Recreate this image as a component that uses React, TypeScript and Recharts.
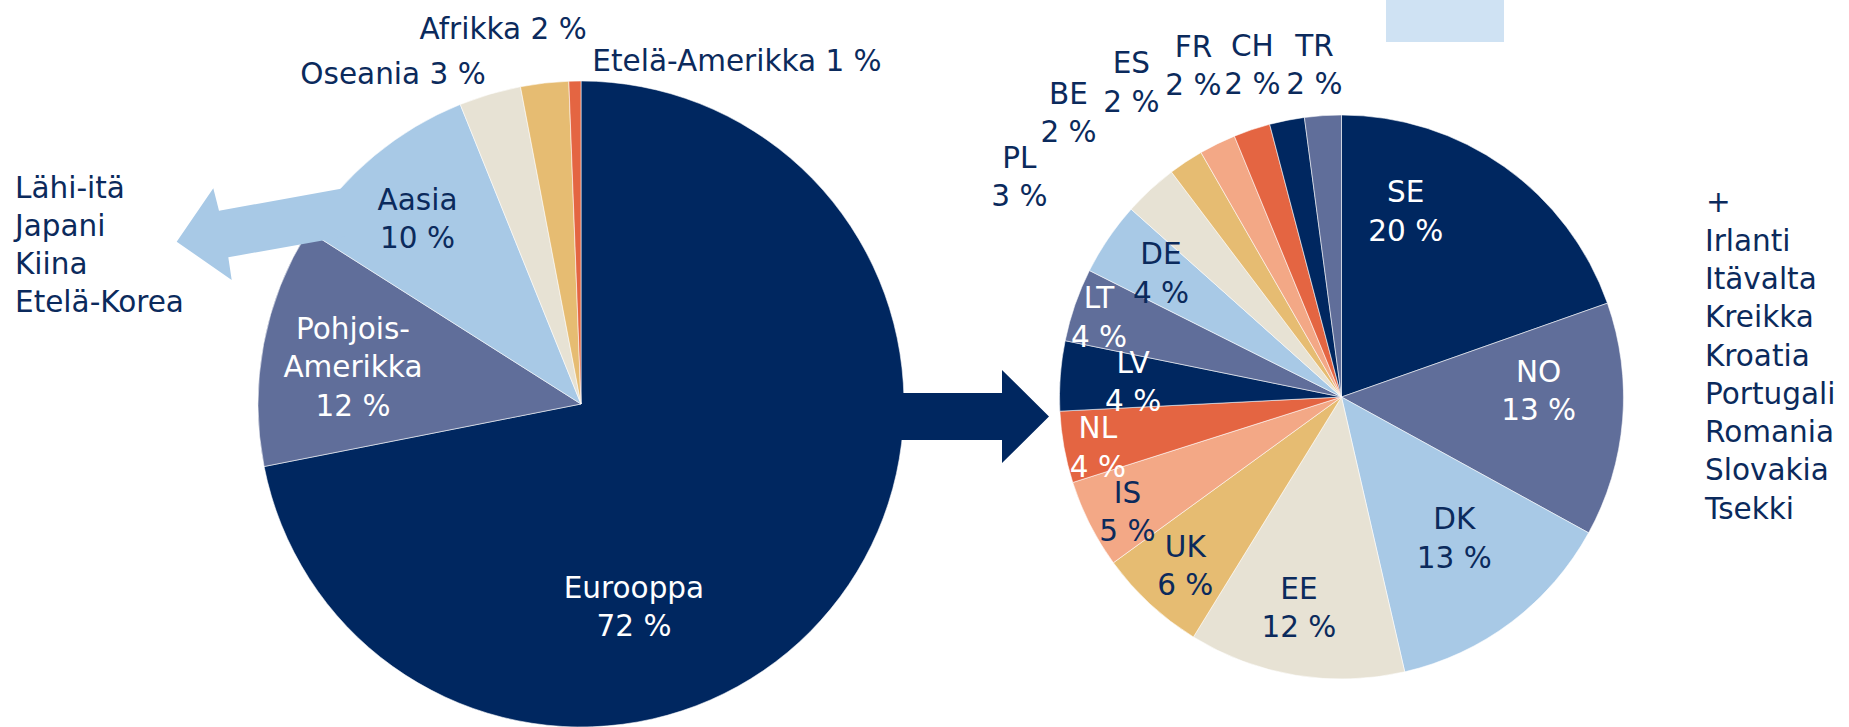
import React from "react";
import { PieChart, Pie, Cell } from "recharts";

// ---------- data ----------
const worldRegions = ["Eurooppa", "Pohjois-Amerikka", "Aasia", "Oseania", "Afrikka", "Etelä-Amerikka"];
const worldShares = [71.9, 12.1, 9.9, 3.1, 2.4, 0.6];

const europeCodes = ["SE", "NO", "DK", "EE", "UK", "IS", "NL", "LV", "LT", "DE", "PL", "BE", "ES", "FR", "CH", "TR"];
const europeShares = [19.6, 13.4, 13.4, 12.4, 6.2, 5.1, 4.1, 4.0, 4.2, 4.2, 3.1, 2.0, 2.1, 2.1, 2.0, 2.1];

const asiaList = ["Lähi-itä", "Japani", "Kiina", "Etelä-Korea"];
const otherEuropeList = ["Irlanti", "Itävalta", "Kreikka", "Kroatia", "Portugali", "Romania", "Slovakia", "Tsekki"];

// ---------- style / layout ----------
const W = 1849;
const H = 727;
const FONT = "'DejaVu Sans', 'Liberation Sans', sans-serif";
const FS = 29.5;
const LH = 38.3;
const TEXT_NAVY = "#0B2A5C";

const NAVY = "#002760";
const SLATE = "#606E9A";
const LIGHTBLUE = "#A8C9E6";
const BEIGE = "#E7E2D4";
const GOLD = "#E6BC72";
const SALMON = "#F3A886";
const ORANGE = "#E46542";
const DARK = new Set([NAVY, SLATE, ORANGE]);

const worldColors = [NAVY, SLATE, LIGHTBLUE, BEIGE, GOLD, ORANGE];
const europePalette = [NAVY, SLATE, LIGHTBLUE, BEIGE, GOLD, SALMON, ORANGE];

// label centre offsets as fractions of the pie radius (x right, y down)
const worldLabelPos: [number, number][] = [
  [0.164, 0.627],
  [-0.706, -0.116],
  [-0.506, -0.576],
  [-0.582, -1.023],
  [-0.241, -1.163],
  [0.483, -1.065],
];
const worldLabelStacked = [true, true, true, false, false, false];

const europeLabelPos: [number, number][] = [
  [0.228, -0.66],
  [0.699, -0.025],
  [0.4, 0.499],
  [-0.151, 0.746],
  [-0.554, 0.596],
  [-0.759, 0.406],
  [-0.864, 0.176],
  [-0.739, -0.057],
  [-0.86, -0.285],
  [-0.64, -0.441],
  [-1.142, -0.784],
  [-0.968, -1.011],
  [-0.745, -1.118],
  [-0.525, -1.177],
  [-0.316, -1.18],
  [-0.096, -1.18],
];

const worldData = worldRegions.map((name, i) => ({ name, value: worldShares[i] }));
const europeData = europeCodes.map((name, i) => ({ name, value: europeShares[i] }));

const pct = (v: number) => `${Math.round(v)} %`;

function makeLabel(
  pos: [number, number][],
  linesFor: (i: number) => string[],
  colorFor: (i: number) => string
) {
  return (props: any) => {
    const { cx, cy, outerRadius, index } = props;
    const [fx, fy] = pos[index];
    const x = cx + fx * outerRadius;
    const yc = cy + fy * outerRadius;
    const lines = linesFor(index);
    const y0 = yc - ((lines.length - 1) * LH) / 2 + FS * 0.365;
    return (
      <text
        key={`lbl-${index}`}
        x={x}
        y={y0}
        textAnchor="middle"
        fill={colorFor(index)}
        fontFamily={FONT}
        fontSize={FS}
      >
        {lines.map((ln, i) => (
          <tspan key={i} x={x} dy={i === 0 ? 0 : LH}>
            {ln}
          </tspan>
        ))}
      </text>
    );
  };
}

const worldLabel = makeLabel(
  worldLabelPos,
  (i) =>
    worldLabelStacked[i]
      ? [...worldRegions[i].replace("-", "-\n").split("\n"), pct(worldShares[i])]
      : [`${worldRegions[i]} ${pct(worldShares[i])}`],
  (i) => (worldLabelStacked[i] && DARK.has(worldColors[i]) ? "#FFFFFF" : TEXT_NAVY)
);

const europeLabel = makeLabel(
  europeLabelPos,
  (i) => [europeCodes[i], pct(europeShares[i])],
  (i) => {
    const [fx, fy] = europeLabelPos[i];
    const inside = Math.hypot(fx, fy) < 1;
    return inside && DARK.has(europePalette[i % europePalette.length]) ? "#FFFFFF" : TEXT_NAVY;
  }
);

export default function App() {
  return (
    <div style={{ position: "absolute", left: 0, top: 0, width: W, height: H, background: "#FFFFFF" }}>
      <PieChart width={W} height={H} margin={{ top: 0, right: 0, bottom: 0, left: 0 }}>
        <Pie
          data={worldData}
          dataKey="value"
          nameKey="name"
          cx={581}
          cy={404}
          outerRadius={323}
          startAngle={90}
          endAngle={-270}
          stroke="rgba(255,255,255,0.7)"
          strokeWidth={0.8}
          label={worldLabel}
          labelLine={false}
          isAnimationActive={false}
        >
          {worldData.map((d, i) => (
            <Cell key={d.name} fill={worldColors[i]} />
          ))}
        </Pie>
        <Pie
          data={europeData}
          dataKey="value"
          nameKey="name"
          cx={1341.5}
          cy={397}
          outerRadius={282}
          startAngle={90}
          endAngle={-270}
          stroke="rgba(255,255,255,0.7)"
          strokeWidth={0.8}
          label={europeLabel}
          labelLine={false}
          isAnimationActive={false}
        >
          {europeData.map((d, i) => (
            <Cell key={d.name} fill={europePalette[i % europePalette.length]} />
          ))}
        </Pie>
      </PieChart>
      <svg
        width={W}
        height={H}
        style={{ position: "absolute", left: 0, top: 0, pointerEvents: "none" }}
      >
        {/* light-blue arrow out of Aasia */}
        <polygon
          points="345,188.1 219,210.7 213.3,188.3 176.7,241.7 231.7,280 228.3,257.3 345,236.4"
          fill={LIGHTBLUE}
        />
        {/* navy arrow between the pies */}
        <polygon points="890,393 1002,393 1002,370 1049,416.5 1002,463 1002,440 890,440" fill={NAVY} />
        {/* light-blue box at the top */}
        <rect x={1386} y={0} width={118} height={42} fill="#CFE2F3" />
        <text fontFamily={FONT} fontSize={FS} fill={TEXT_NAVY}>
          {asiaList.map((t, i) => (
            <tspan key={t} x={15} y={197.5 + i * LH}>
              {t}
            </tspan>
          ))}
        </text>
        <text fontFamily={FONT} fontSize={FS} fill={TEXT_NAVY}>
          <tspan x={1706} y={212}>
            +
          </tspan>
          {otherEuropeList.map((t, i) => (
            <tspan key={t} x={1705} y={250.6 + i * LH}>
              {t}
            </tspan>
          ))}
        </text>
      </svg>
    </div>
  );
}
